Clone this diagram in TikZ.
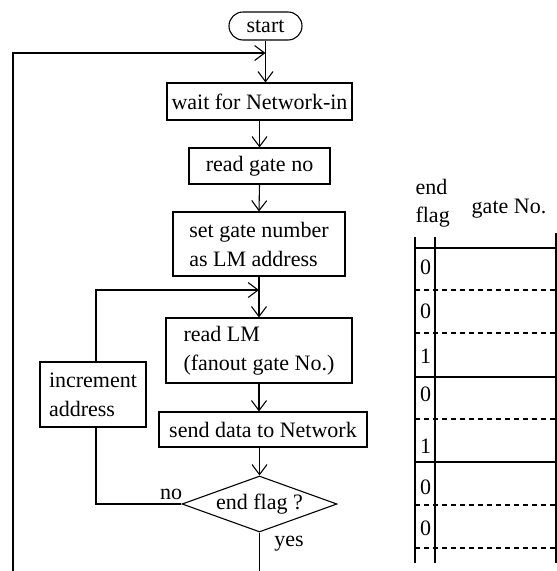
\documentclass[tikz,border=0pt]{standalone}
\usepackage{fontspec}
\setmainfont{Liberation Serif}
\usetikzlibrary{arrows.meta,shapes.geometric}
\begin{document}
\begin{tikzpicture}[x=1pt,y=-1pt,
  line width=1.1pt,
  txt/.style={font=\fontsize{22}{29}\selectfont, inner sep=0pt},
  box/.style={draw, rectangle, inner sep=0pt, txt},
  arr/.style={-{Straight Barb[length=10pt,width=15pt,line width=1.1pt]}},
  dsh/.style={dash pattern=on 5pt off 4pt}
]
\useasboundingbox (0,0) rectangle (557,571);
% flowchart nodes
\node[box, rounded corners=14pt, minimum width=73pt, minimum height=28pt] (start) at (265.5,26) {start};
\node[box, minimum width=185pt, minimum height=37pt] (wait) at (259.5,101.5) {wait for Network-in};
\node[box, minimum width=141pt, minimum height=36pt] (rgate) at (259.5,166) {read gate no};
\node[box, align=left, minimum width=172pt, minimum height=64pt] (setg) at (259,244) {set gate number\\as LM address};
\node[box, align=left, minimum width=186pt, minimum height=65pt] (rlm) at (259,350.5) {read LM\\(fanout gate No.)};
\node[box, align=left, minimum width=106pt, minimum height=65pt] (inc) at (93,394.5) {increment\\address};
\node[box, minimum width=208pt, minimum height=35pt] (send) at (263,429.5) {send data to Network};
\node[draw, diamond, txt, inner sep=0pt, aspect=2.77, minimum width=155pt, minimum height=56pt] (dia) at (259.5,504) {end flag ?};
\node[txt] (no) at (171,494) {no};
\node[txt] (yes) at (289,544) {yes};
% coordinates
\coordinate (obot) at (13,571);
\coordinate (otop) at (13,53);
\coordinate (j1) at (265.5,53);
\coordinate (j2) at (259,290);
\coordinate (ltop) at (96,290);
% connectors
\draw[arr] (start.south) -- (start.south |- wait.north);
\draw[arr] (wait.south) -- (rgate.north);
\draw[arr] (rgate.south) -- (setg.north);
\draw[arr] (setg.south) -- (rlm.north);
\draw[arr] (rlm.south) -- (rlm.south |- send.north);
\draw[arr] (send.south -| dia.north) -- (dia.north);
\draw (dia.south) -- (dia.south |- obot);
\draw[arr] (obot) -- (otop) -- (j1);
\draw[arr] (inc.north -| ltop) -- (ltop) -- (j2);
\draw (inc.south -| ltop) |- (dia.west);
% table
\node[txt, anchor=west] (endt) at (415,187) {end};
\node[txt, anchor=west] (flagt) at (415,217) {flag};
\node[txt] (gateno) at (509,209) {gate No.};
\draw (415,237) -- (415,563);
\draw (435,237) -- (435,563);
\draw (556,233) -- (556,563);
\draw (415,248) -- (556,248);
\draw (415,377) -- (556,377);
\draw (415,462) -- (556,462);
\draw[dsh] (415,290) -- (556,290);
\draw[dsh] (415,333) -- (556,333);
\draw[dsh] (415,419) -- (556,419);
\draw[dsh] (415,505) -- (556,505);
\draw[dsh] (415,548) -- (556,548);
\node[txt] (f1) at (425.5,267) {0};
\node[txt] (f2) at (425.5,311) {0};
\node[txt] (f3) at (425.5,356) {1};
\node[txt] (f4) at (425.5,394) {0};
\node[txt] (f5) at (425.5,446) {1};
\node[txt] (f6) at (425.5,487) {0};
\node[txt] (f7) at (425.5,528) {0};
\end{tikzpicture}
\end{document}
